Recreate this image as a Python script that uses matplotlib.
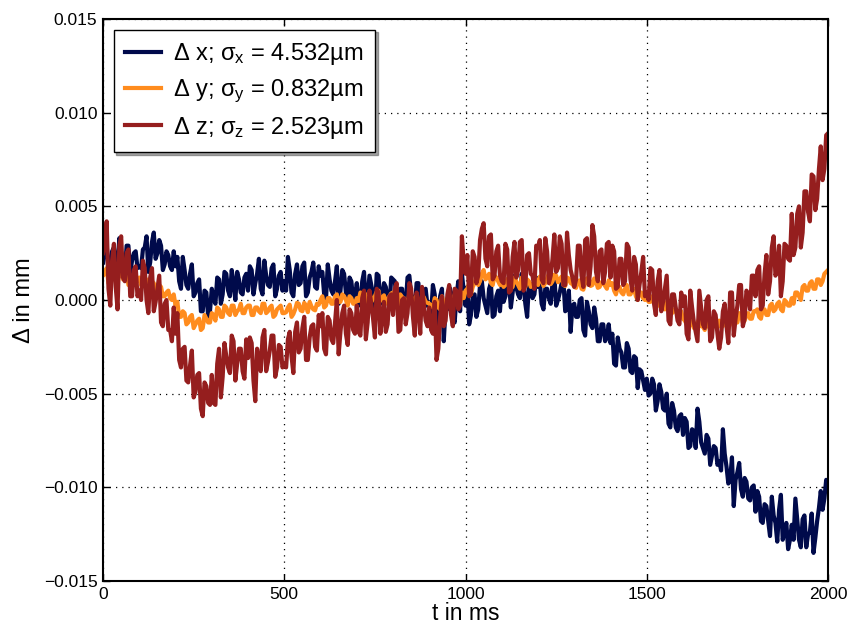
import numpy as np
import matplotlib
matplotlib.use("Agg")
import matplotlib.pyplot as plt

plt.rcParams['font.family'] = ['Liberation Sans', 'DejaVu Sans']
plt.rcParams['mathtext.fontset'] = 'custom'
plt.rcParams['mathtext.rm'] = 'Liberation Sans'
plt.rcParams['mathtext.it'] = 'Liberation Sans'

# samples every 5 ms: values on the 10 ms grid and the ones halfway between
t_ms = np.arange(0, 2001, 5)

# displacement values, in micrometres
dx_um = [
    2.0, 3.0, 1.6, 2.8, 1.9, 2.5, 1.4, 2.9, 2.1, 2.6,
    1.8, 2.7, 3.4, 2.0, 3.6, 2.5, 2.9, 1.9, 2.4, 1.6,
    1.8, 1.0, 2.3, 0.8, 1.4, 0.2, 0.9, -0.6, 0.5, -0.9,
    0.6, -0.2, 1.1, 0.3, 1.4, 0.2, 0.9, 1.5, 0.4, 1.2,
    0.5, 1.6, 0.9, 2.2, 0.3, 1.3, 0.7, 1.9, 0.6, 1.5,
    1.0, 2.3, 0.4, 1.4, 0.8, 1.8, 0.2, 1.2, 2.0, 0.6,
    1.3, 0.3, 1.9, 0.5, 1.0, -0.2, 1.6, 0.4, 1.2, 0.0,
    0.9, -0.3, 1.5, 0.2, 0.8, -0.6, 1.3, 0.1, 0.7, -0.4,
    1.1, 0.0, 0.6, -0.8, 1.2, 0.3, -0.5, 0.9, -0.2, 0.6,
    -0.4, 0.8, -1.5, 0.2, -2.2, -0.5, 0.4, -1.2, 1.0, 1.4,
    -0.3, -1.3, 0.2, -0.9, 0.8, 0.1, -0.7, 0.9, -0.8, 0.5,
    0.8, 0.2, 0.9, 0.4, 0.7, 0.1, 0.8, -0.9, 0.5, 0.3,
    0.7, -0.2, 0.6, 0.1, 0.9, -0.3, 0.4, 1.0, -0.5, -1.7,
    -0.2, -0.9, 0.1, -1.9, -0.6, -1.5, -1.0, -2.2, -1.3, -2.0,
    -2.3, -3.4, -2.0, -2.8, -3.6, -2.6, -3.9, -3.1, -3.7, -4.3,
    -4.2, -5.0, -4.5, -5.4, -4.9, -5.9, -6.6, -5.5, -6.8, -6.2,
    -7.2, -6.5, -7.8, -7.0, -5.8, -7.6, -8.2, -7.4, -8.3, -7.9,
    -8.6, -6.9, -8.9, -9.6, -11.0, -9.2, -10.1, -9.5, -10.6, -10.0,
    -11.3, -10.5, -11.9, -11.0, -12.6, -11.5, -12.9, -10.4, -12.4, -13.3,
    -12.0, -10.6, -12.8, -11.7, -13.2, -12.4, -13.5, -11.8, -10.2, -10.6,
    -9.8,
]
dx_mid_um = [
    3.0, 1.5, 2.6, 1.8, 3.3, 2.0, 2.9, 1.4, 2.5, 1.7,
    1.7, 2.8, 1.5, 3.1, 2.2, 3.2, 1.6, 2.6, 1.8, 2.6,
    2.3, 0.6, 1.6, 0.6, 1.9, 0.4, 1.1, -0.6, 0.4, -0.6,
    0.1, 1.2, -0.2, 1.5, 0.5, 1.6, 0.0, 1.1, 0.3, 1.4,
    1.8, 0.3, 1.4, 0.6, 2.1, 0.8, 1.7, 0.2, 1.3, 0.5,
    0.5, 1.6, 0.2, 1.9, 0.9, 2.0, 0.4, 1.5, 0.7, 1.8,
    1.5, 0.0, 1.1, 0.3, 1.8, 0.5, 1.4, -0.1, 1.0, 0.2,
    -0.1, 1.0, -0.4, 1.3, 0.3, 1.4, -0.2, 0.9, 0.1, 1.2,
    1.0, -0.5, 0.6, -0.2, 1.3, 0.0, 0.9, -0.6, 0.5, -0.3,
    -0.8, 0.3, -1.1, 0.6, -0.4, 0.7, -0.9, 0.2, -0.6, 0.5,
    0.7, -0.8, 0.3, -0.5, 1.0, -0.3, 0.6, -0.9, 0.2, -0.6,
    -0.1, 1.0, -0.4, 1.3, 0.3, 1.4, -0.2, 0.9, 0.1, 1.2,
    1.0, -0.5, 0.6, -0.2, 1.3, 0.0, 0.9, -0.6, 0.5, -0.3,
    -0.9, 0.0, -1.6, -0.1, -1.3, -0.4, -2.2, -1.3, -2.2, -1.3,
    -1.8, -3.5, -2.6, -3.6, -2.3, -3.8, -3.0, -4.7, -3.8, -4.8,
    -5.1, -4.2, -5.9, -4.5, -5.8, -5.0, -6.8, -5.9, -7.0, -6.1,
    -6.3, -7.9, -6.9, -7.9, -6.5, -7.9, -7.2, -8.8, -7.8, -8.8,
    -9.1, -8.2, -9.8, -8.4, -9.6, -8.7, -10.5, -9.7, -10.7, -9.9,
    -10.2, -11.8, -10.9, -11.8, -10.5, -11.9, -11.2, -12.8, -11.9, -12.8,
    -12.8, -11.7, -13.2, -11.5, -12.5, -11.4, -12.7, -11.1, -11.2, -9.6,
]

dy_um = [
    1.3, 1.7, 0.9, 1.4, 1.0, 1.5, 1.1, 0.8, 1.3, 1.0,
    1.2, 0.8, 1.1, 0.6, 0.9, 0.4, 0.7, 0.2, 0.5, 0.0,
    -0.3, -0.9, -0.6, -1.3, -0.9, -1.5, -1.1, -1.6, -0.8, -1.2,
    -0.7, -1.1, -0.5, -0.9, -0.4, -0.8, -0.3, -0.6, -0.2, -0.7,
    -0.3, -0.8, -0.4, -0.6, -0.2, -0.7, -0.4, -0.9, -0.5, -0.3,
    -0.7, -0.4, -0.9, -0.5, -0.2, -0.6, -0.3, -0.1, -0.5, -0.2,
    0.0, -0.4, 0.1, -0.2, 0.2, -0.1, 0.3, 0.0, 0.2, -0.2,
    0.1, 0.4, 0.0, 0.3, -0.1, 0.2, 0.5, 0.1, -0.2, 0.2,
    0.4, 0.0, 0.3, 0.1, -0.2, 0.2, 0.0, -0.3, 0.1, -0.1,
    -0.2, -0.4, 0.0, -0.5, -0.2, 0.1, -0.1, 0.3, 0.1, 0.4,
    0.5, 0.9, 0.7, 1.3, 1.0, 1.6, 1.2, 0.9, 1.3, 1.0,
    1.1, 0.8, 1.2, 0.7, 1.0, 0.6, 0.9, 1.1, 0.7, 1.0,
    0.8, 1.1, 0.9, 1.4, 1.0, 1.3, 1.1, 0.8, 1.2, 0.9,
    0.7, 1.0, 0.6, 0.9, 1.2, 0.8, 1.0, 0.7, 0.9, 0.6,
    0.8, 0.5, 0.7, 0.4, 0.6, 0.3, 0.5, 0.2, 0.4, 0.1,
    0.2, -0.1, 0.1, -0.3, -0.2, -0.5, -0.4, -0.7, -0.6, -0.9,
    -1.0, -1.3, -1.1, -1.5, -1.2, -1.4, -1.6, -1.3, -1.5, -1.2,
    -1.1, -1.4, -1.0, -1.3, -0.9, -1.2, -0.8, -1.1, -0.7, -1.0,
    -0.6, -0.9, -0.5, -0.8, -0.3, -0.6, -0.2, -0.5, 0.0, -0.3,
    0.1, 0.4, 0.2, 0.7, 0.5, 0.9, 0.6, 1.1, 0.8, 1.4,
    1.6,
]
dy_mid_um = [
    1.4, 0.9, 1.3, 1.0, 1.5, 1.1, 1.4, 0.9, 1.3, 1.0,
    0.8, 1.1, 0.5, 1.0, 0.5, 0.8, 0.2, 0.4, 0.1, 0.3,
    -0.1, -0.9, -0.7, -1.2, -0.8, -1.3, -1.0, -1.5, -1.0, -1.2,
    -0.8, -0.4, -0.9, -0.3, -0.7, -0.3, -0.8, -0.5, -0.7, -0.4,
    -0.3, -0.8, -0.4, -0.7, -0.2, -0.6, -0.3, -0.8, -0.4, -0.7,
    -0.65, -0.25, -0.75, -0.15, -0.55, -0.15, -0.65, -0.35, -0.55, -0.25,
    0.2, -0.3, 0.1, -0.2, 0.3, -0.1, 0.2, -0.3, 0.1, -0.2,
    -0.05, 0.35, -0.15, 0.45, 0.05, 0.45, -0.05, 0.25, 0.05, 0.35,
    0.25, -0.25, 0.15, -0.15, 0.35, -0.05, 0.25, -0.25, 0.15, -0.15,
    -0.3, 0.1, -0.4, 0.2, -0.2, 0.2, -0.3, 0.0, -0.2, 0.1,
    0.6, 0.3, 0.9, 0.8, 1.4, 1.1, 1.4, 0.8, 1.2, 0.8,
    0.7, 1.1, 0.6, 1.2, 0.8, 1.2, 0.7, 1.0, 0.8, 1.1,
    1.25, 0.75, 1.15, 0.85, 1.35, 0.95, 1.25, 0.75, 1.15, 0.85,
    0.65, 1.05, 0.55, 1.15, 0.75, 1.15, 0.65, 0.95, 0.75, 1.05,
    0.9, 0.3, 0.7, 0.3, 0.8, 0.3, 0.6, 0.0, 0.4, 0.0,
    -0.1, 0.2, -0.4, 0.1, -0.4, -0.1, -0.7, -0.5, -0.8, -0.6,
    -1.1, -1.6, -1.2, -1.5, -1.0, -1.4, -1.1, -1.6, -1.2, -1.5,
    -1.4, -1.0, -1.5, -0.8, -1.2, -0.7, -1.2, -0.8, -1.0, -0.6,
    -0.5, -1.0, -0.5, -0.8, -0.2, -0.5, -0.1, -0.6, -0.1, -0.3,
    -0.2, 0.4, 0.0, 0.8, 0.5, 1.0, 0.6, 1.1, 1.0, 1.5,
]

dz_um = [
    2.5, 4.2, -0.3, 3.0, -0.5, 3.4, 1.0, 2.7, 0.2, 1.8,
    0.5, 2.1, 0.0, 1.2, -0.6, 0.6, -1.2, -0.2, -1.6, -2.2,
    -1.8, -3.2, -2.6, -4.3, -3.5, -5.2, -4.0, -5.8, -4.4, -5.5,
    -4.0, -5.6, -2.6, -4.1, -3.0, -3.9, -2.2, -3.4, -2.6, -4.2,
    -3.1, -2.3, -5.4, -3.3, -2.0, -3.8, -2.7, -1.9, -3.6, -2.5,
    -3.4, -2.1, -3.0, -1.7, -2.8, -1.5, -3.2, -2.0, -1.3, -2.7,
    -1.4, -2.6, -0.9, -2.1, -1.2, -2.9, -0.7, -1.8, -0.5, -1.6,
    -0.3, -1.9, 0.5, -1.2, -0.2, -2.0, 0.4, -0.9, -1.7, 0.2,
    -0.8, 0.9, -1.6, 0.1, -0.7, 0.6, -1.9, -0.2, 0.7, -1.1,
    -0.4, -1.8, -3.2, -0.9, -1.4, 0.3, -0.8, 0.6, -0.5, 3.4,
    1.4, 0.2, 2.6, 0.9, 3.2, 4.1, 1.8, 3.5, 1.3, 2.9,
    1.0, 3.0, 0.4, 2.3, 1.2, 3.1, 0.5, 2.4, 1.4, 0.6,
    2.8, 1.1, 3.3, 0.9, 2.2, 1.5, 3.4, 0.8, 3.6, 1.6,
    0.7, 2.9, 1.3, 3.2, 0.8, 4.0, 1.5, 2.6, 0.9, 3.0,
    1.2, 2.6, 0.7, 2.2, 1.0, 2.8, 0.5, 1.9, 0.8, 2.3,
    0.4, 1.7, -0.2, 1.0, -0.6, 0.6, -1.1, 0.3, -0.4, -1.3,
    -0.3, -1.8, 0.5, -1.2, -2.2, -0.4, -1.5, 0.2, -2.0, -0.8,
    -2.6, -0.6, -1.4, 0.4, -1.9, -0.3, 0.8, -1.0, 0.3, 1.3,
    0.2, 1.8, -0.3, 2.4, 1.0, 3.4, 1.6, 0.2, 3.0, 2.2,
    4.6, 2.8, 5.0, 3.6, 5.8, 4.2, 6.6, 5.4, 8.2, 7.0,
    8.9,
]
dz_mid_um = [
    3.1, 0.6, 2.1, 0.7, 2.9, 1.2, 2.5, 0.2, 1.6, 0.2,
    0.0, 1.7, -0.7, 1.7, -0.1, 1.3, -1.4, 0.0, -1.6, -0.4,
    -0.7, -3.6, -2.5, -4.4, -2.7, -4.9, -3.9, -6.2, -4.6, -5.6,
    -5.5, -3.4, -5.2, -2.3, -3.6, -1.9, -4.3, -2.6, -3.8, -2.1,
    -2.0, -4.3, -2.6, -3.8, -1.6, -3.3, -1.9, -4.1, -2.4, -3.6,
    -3.6, -1.7, -3.9, -1.2, -2.6, -0.9, -3.2, -1.4, -2.5, -0.8,
    -0.7, -2.9, -1.1, -2.3, 0.0, -1.7, -0.3, -2.4, -0.7, -1.8,
    -1.7, 0.1, -2.1, 0.5, -1.0, 0.6, -1.8, -0.1, -1.3, 0.3,
    0.6, -1.7, 0.0, -1.3, 0.9, -0.9, 0.4, -1.8, -0.2, -1.4,
    -1.6, -0.1, -2.6, 0.2, -1.1, 0.8, -1.4, 0.5, -0.3, 2.0,
    2.4, 0.3, 2.3, 1.3, 3.8, 2.2, 3.4, 1.1, 2.6, 1.3,
    0.9, 2.7, 0.5, 3.1, 1.6, 3.2, 0.8, 2.5, 1.3, 2.9,
    3.2, 0.9, 2.6, 1.3, 3.5, 1.7, 3.0, 0.8, 2.4, 1.2,
    1.1, 2.9, 0.7, 3.3, 1.8, 3.4, 1.0, 2.7, 1.5, 3.1,
    2.9, 0.6, 2.2, 0.8, 3.0, 1.1, 2.3, 0.0, 1.5, 0.2,
    0.0, 1.6, -0.8, 1.6, -0.1, 1.3, -1.3, 0.3, -1.1, 0.4,
    0.2, -2.1, -0.4, -1.7, 0.5, -1.3, 0.0, -2.2, -0.6, -1.8,
    -2.0, -0.2, -2.3, 0.4, -1.0, 0.8, -1.4, 0.5, -0.5, 1.3,
    1.6, -0.5, 1.4, 0.3, 2.8, 1.3, 2.9, 1.0, 2.9, 2.1,
    2.4, 4.6, 2.8, 5.8, 4.7, 6.7, 4.8, 7.0, 6.4, 8.8,
]

labels = [r'$\Delta$ x; $\sigma_\mathrm{x}$ = 4.532µm',
          r'$\Delta$ y; $\sigma_\mathrm{y}$ = 0.832µm',
          r'$\Delta$ z; $\sigma_\mathrm{z}$ = 2.523µm']
colors = ['#000a4b', '#ff8c1e', '#951e1e']


def merge(grid, mid):
    out = np.empty(len(grid) + len(mid))
    out[0::2] = grid
    out[1::2] = mid
    return out


series = [merge(dx_um, dx_mid_um), merge(dy_um, dy_mid_um), merge(dz_um, dz_mid_um)]
assert all(len(s) == len(t_ms) for s in series)

fig = plt.figure(figsize=(8.53, 6.30), dpi=100)
ax = fig.add_axes([0.1208, 0.0778, 0.8499, 0.892])

for vals, lab, col in zip(series, labels, colors):
    # micrometres -> millimetres
    ax.plot(t_ms, vals / 1000.0, color=col, lw=3.0, label=lab)

ax.set_xlim(0, 2000)
ax.set_ylim(-0.015, 0.015)
ax.set_xticks([0, 500, 1000, 1500, 2000])
yt = np.arange(-0.015, 0.0151, 0.005)
ax.set_yticks(yt)
ax.set_yticklabels([f"{v:.3f}".replace('-', '\u2212') for v in yt])

ax.grid(True, color='k', linestyle=(0, (1, 4)), linewidth=0.9)
ax.tick_params(direction='in', top=True, right=True, length=5, width=1,
               labelsize=12.5, pad=4)
for sp in ax.spines.values():
    sp.set_linewidth(1.5)

ax.set_xlabel('t in ms', fontsize=16.5, labelpad=0)
ax.set_ylabel('Δ in mm', fontsize=17, labelpad=6)

leg = ax.legend(loc='upper left', fontsize=17, shadow=True, fancybox=False,
                framealpha=1, borderaxespad=0.45, handlelength=1.5,
                handletextpad=0.5, labelspacing=0.42, borderpad=0.5)
leg.get_frame().set_edgecolor('k')
leg.get_frame().set_linewidth(1.0)

fig.savefig('out.png', dpi=100)
